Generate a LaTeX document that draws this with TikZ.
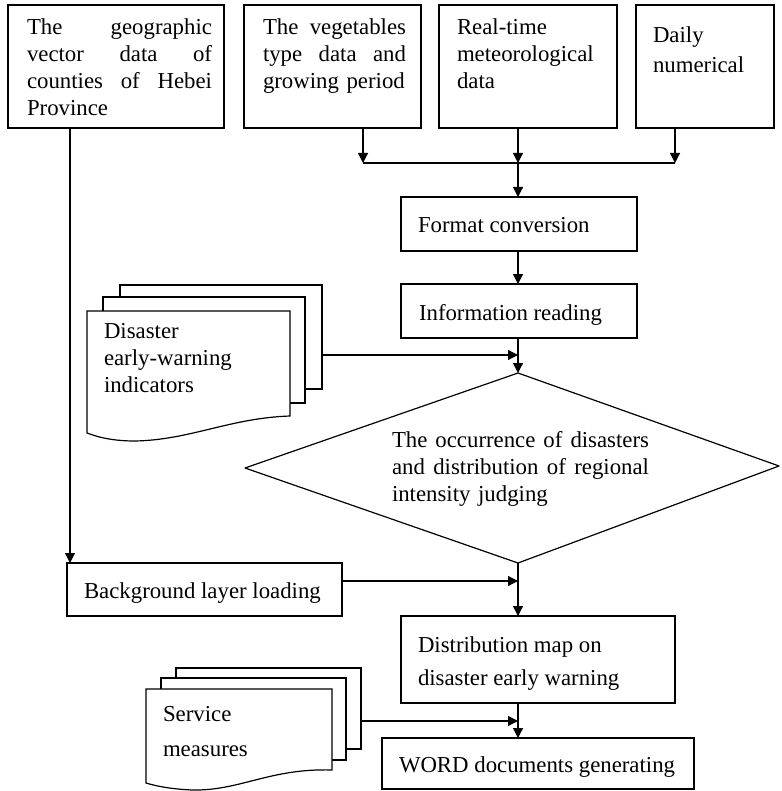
\documentclass[tikz,border=0pt]{standalone}
\usepackage{fontspec}
\setmainfont{Liberation Serif}
\usetikzlibrary{arrows.meta}
\begin{document}
\begin{tikzpicture}[x=1pt,y=-1pt,
  box/.style={draw, line width=1.2pt, fill=white, inner sep=0pt, outer sep=0pt, anchor=north west},
  txt/.style={anchor=north west, inner sep=0pt, outer sep=0pt, align=left, font=\fontsize{22.8}{27}\selectfont},
  btxt/.style={anchor=base west, inner sep=0pt, outer sep=0pt, font=\fontsize{22.8}{27}\selectfont},
  arr/.style={line width=1.2pt, -{Triangle[length=10pt,width=10pt]}},
  ln/.style={line width=1.2pt},
  sheet/.style={draw, line width=1.2pt, fill=white, line join=miter}]
\useasboundingbox (0,0) rectangle (781,791);

% top boxes
\node[box, minimum width=216pt, minimum height=123pt] (b1) at (8,5) {};
\node[box, minimum width=177pt, minimum height=123pt] (b2) at (244,5) {};
\node[box, minimum width=178pt, minimum height=123pt] (b3) at (439,5) {};
\node[box, minimum width=138pt, minimum height=123pt] (b4) at (636,5) {};

\node[txt, text width=185pt] (t1) at (27,16.1) {\strut The\hfill geographic\\ vector\hfill data\hfill of\\ counties\hfill of\hfill Hebei\\ Province};
\node[txt, text width=143pt] (t2) at (263,16.1) {\strut The\hfill vegetables\\ type\hfill data\hfill and\\ growing period};
\node[txt] (t3) at (457,16.1) {\strut Real-time\\ meteorological\\ data};
\node[txt, font=\fontsize{22.8}{30}\selectfont] (t4) at (653,22) {\strut Daily\\ numerical};

% middle boxes
\node[box, minimum width=236pt, minimum height=54pt] (fmt) at (401,197) {};
\node[btxt] (tf) at (418,233) {Format conversion};
\node[box, minimum width=236pt, minimum height=54pt] (info) at (401,284) {};
\node[btxt] (ti) at (419,320) {Information reading};

% disaster indicators (multi-document)
\node[box, minimum width=202pt, minimum height=104pt] (dback) at (120,285) {};
\node[box, minimum width=202pt, minimum height=106pt] (dmid) at (103,297) {};
\draw[sheet] (87,433) -- (87,311) -- (290,311) -- (290,416)
  .. controls (230,418) and (190,440) .. (135,441)
  .. controls (115,441) and (100,438) .. (87,433) -- cycle;
\node[txt] (td) at (104,319.1) {\strut Disaster\\ early-warning\\ indicators};

% diamond
\coordinate (dT) at (518,373);
\coordinate (dR) at (779,466);
\coordinate (dB) at (518,563);
\coordinate (dL) at (245,468);
\draw[ln, line join=round] (dT) -- (dR) -- (dB) -- (dL) -- cycle;
\node[txt, text width=257pt] (tdm) at (392,428.1) {\strut The\hfill occurrence\hfill of\hfill disasters\\ and\hfill distribution\hfill of\hfill regional\\ intensity judging};

% lower boxes
\node[box, minimum width=275pt, minimum height=53pt] (bg) at (67,563) {};
\node[btxt] (tbg) at (84,598) {Background layer loading};
\node[box, minimum width=274pt, minimum height=87pt] (dist) at (401,616) {};
\node[txt, font=\fontsize{22.8}{33}\selectfont] (tdist) at (418,628.9) {\strut Distribution map on\\ disaster early warning};
\node[box, minimum width=312pt, minimum height=51pt] (word) at (382,738) {};
\node[btxt] (tw) at (399,772) {WORD documents generating};

% service measures (multi-document)
\node[box, minimum width=185pt, minimum height=81pt] (sback) at (176,668) {};
\node[box, minimum width=185pt, minimum height=82pt] (smid) at (161,678) {};
\draw[sheet] (146,783) -- (146,689) -- (332,689) -- (332,770)
  .. controls (270,768) and (240,791) .. (192,790)
  .. controls (170,789) and (156,786) .. (146,783) -- cycle;
\node[txt, font=\fontsize{22.8}{35}\selectfont] (ts) at (163,696.5) {\strut Service\\ measures};

% connectors
\coordinate (m2) at (363,163);
\coordinate (m3) at (518,163);
\coordinate (m4) at (675,163);
\draw[arr] (m2 |- b2.south) -- (m2);
\draw[arr] (m3 |- b3.south) -- (m3);
\draw[arr] (m4 |- b4.south) -- (m4);
\draw[ln] (m2) -- (m4);
\draw[arr] (m3) -- (m3 |- fmt.north);
\draw[arr] (m3 |- fmt.south) -- (m3 |- info.north);
\draw[arr] (dT |- info.south) -- (dT);
\coordinate (dj) at (518,355);
\draw[arr] (dj -| dback.east) -- (dj);

\coordinate (v1) at (70,563);
\draw[arr] (v1 |- b1.south) -- (v1);
\coordinate (bgj) at (518,581);
\draw[arr] (bgj -| bg.east) -- (bgj);
\draw[arr] (dB) -- (dB |- dist.north);
\coordinate (sj) at (518,721);
\draw[arr] (sj -| sback.east) -- (sj);
\draw[arr] (dB |- dist.south) -- (dB |- word.north);
\end{tikzpicture}
\end{document}
